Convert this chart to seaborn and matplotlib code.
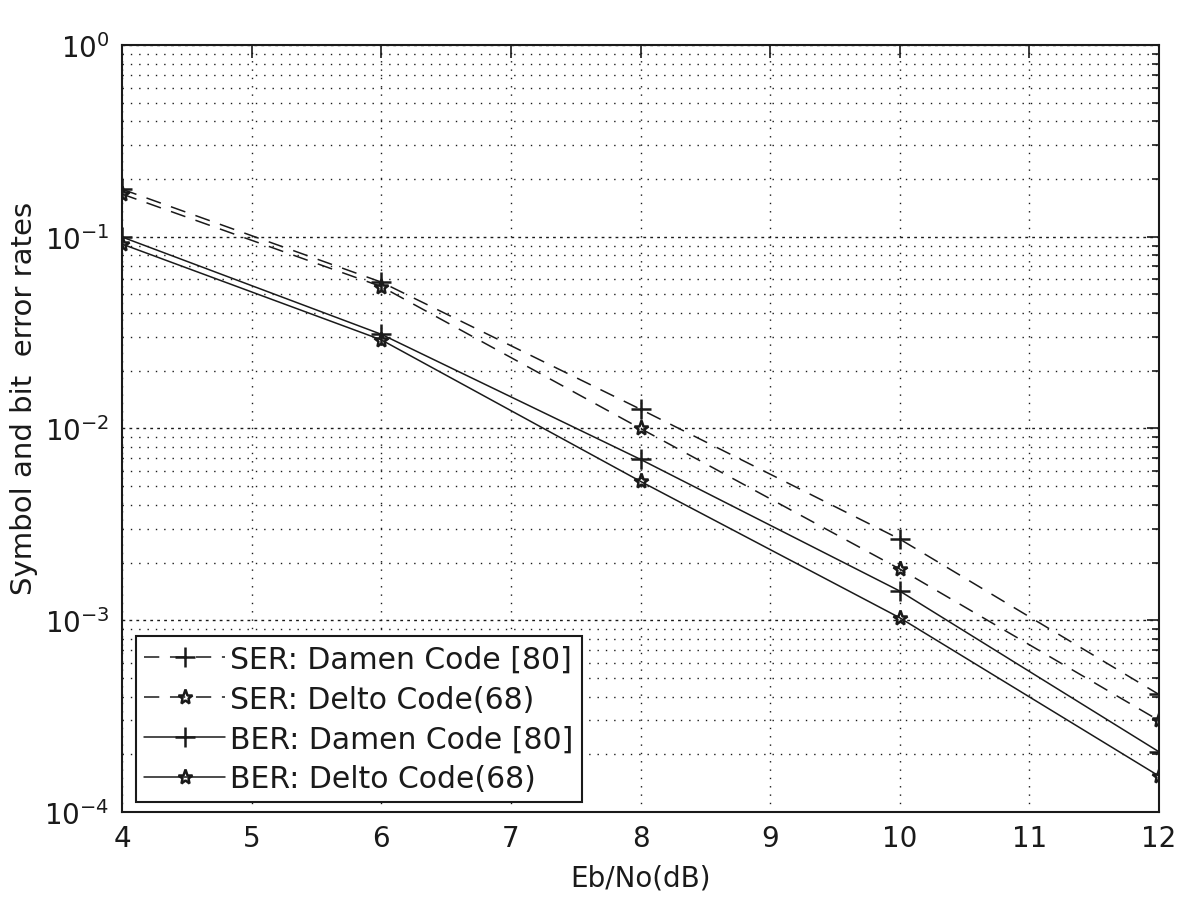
import numpy as np
import pandas as pd
import matplotlib
matplotlib.use('Agg')
import matplotlib.pyplot as plt
import seaborn as sns
from matplotlib.ticker import LogLocator, NullFormatter

# values
snr = [4, 6, 8, 10, 12]
ser_damen = [0.177, 0.058, 0.0126, 0.00265, 0.00041]
ser_delto = [0.167, 0.055, 0.0100, 0.00185, 0.00030]
ber_damen = [0.0997, 0.031, 0.0069, 0.00142, 0.000206]
ber_delto = [0.0916, 0.029, 0.0053, 0.00103, 0.000154]

labels = ['SER: Damen Code [80]', 'SER: Delto Code(68)',
          'BER: Damen Code [80]', 'BER: Delto Code(68)']
series = [ser_damen, ser_delto, ber_damen, ber_delto]
markers = ['+', '*', '+', '*']
styles = [(0, (10, 7)), (0, (10, 7)), '-', '-']

sns.set_theme(style='white')
plt.rcParams['font.family'] = ['DejaVu Sans']
plt.rcParams['mathtext.default'] = 'regular'
plt.rcParams['text.color'] = 'k'
plt.rcParams['axes.labelcolor'] = 'k'
plt.rcParams['xtick.color'] = 'k'
plt.rcParams['ytick.color'] = 'k'

fig = plt.figure(figsize=(12, 9.04), dpi=100)
ax = fig.add_axes([0.1017, 0.1007, 0.8641, 0.8484])

for lab, vals, m, ls in zip(labels, series, markers, styles):
    df = pd.DataFrame({'snr': snr, 'rate': vals})
    sns.lineplot(data=df, x='snr', y='rate', ax=ax, color='k', lw=1.1,
                 linestyle=ls, marker=m, markersize=15 if m == '+' else 11,
                 markerfacecolor='none', markeredgecolor='k',
                 markeredgewidth=1.8, label=lab)

ax.set_yscale('log')
ax.set_xlim(4, 12)
ax.set_ylim(1e-4, 1)
ax.set_xticks(range(4, 13))
ax.yaxis.set_major_locator(LogLocator(base=10, numticks=10))
ax.yaxis.set_minor_locator(LogLocator(base=10, subs=np.arange(2, 10), numticks=20))
ax.yaxis.set_minor_formatter(NullFormatter())

# matlab style dotted grid
ax.grid(True, which='major', axis='x', color='k', ls=(0, (1, 5)), lw=1.0)
ax.grid(True, which='major', axis='y', color='k', ls=(0, (2, 3)), lw=1.0)
ax.grid(True, which='minor', axis='y', color='k', ls=(0, (1, 5)), lw=1.0)
ax.set_axisbelow(True)

for s in ax.spines.values():
    s.set_color('k')
    s.set_linewidth(1.5)

ax.tick_params(which='both', direction='in', top=True, right=True,
               colors='k', labelsize=20)
ax.tick_params(which='major', length=9, width=1.2, pad=9)
ax.tick_params(which='minor', length=5, width=1.2)

ax.set_xlabel('Eb/No(dB)', fontsize=20, labelpad=8)
ax.set_ylabel('Symbol and bit  error rates', fontsize=21)
ax.yaxis.set_label_coords(-0.081, 0.54)

leg = ax.legend(loc='lower left', bbox_to_anchor=(0.013, 0.013),
                borderaxespad=0, fontsize=21.5, frameon=True, fancybox=False,
                edgecolor='k', framealpha=1, handlelength=2.7,
                handletextpad=0.15, labelspacing=0.36, borderpad=0.3,
                numpoints=1)
leg.get_frame().set_linewidth(1.5)
for t in leg.get_texts():
    t.set_color('k')

fig.savefig('out.png', dpi=100)
